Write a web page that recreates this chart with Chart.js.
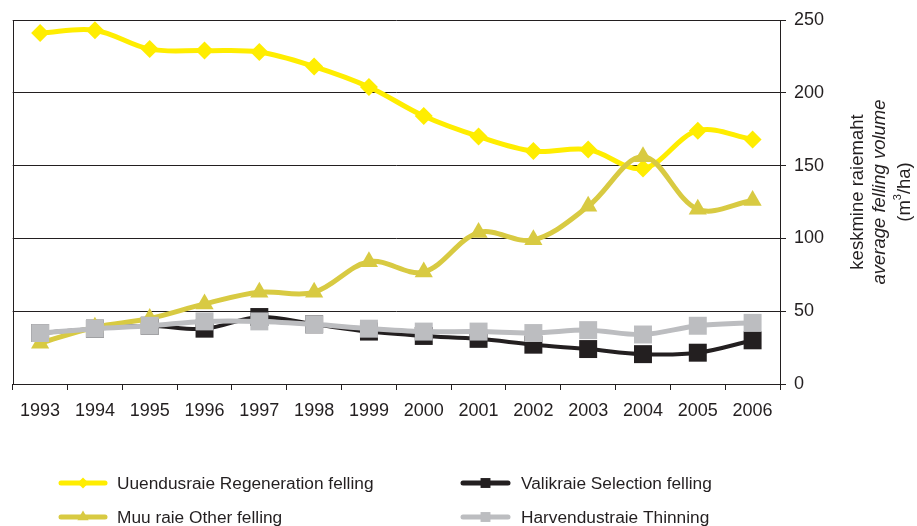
<!DOCTYPE html>
<html>
<head>
<meta charset="utf-8">
<script src="https://cdn.jsdelivr.net/npm/chart.js@4"></script>
<style>
  html, body { margin: 0; padding: 0; background: #ffffff; }
  #wrap { width: 917px; height: 526px; position: relative; }
  canvas { display: block; }
</style>
</head>
<body>
<div id="wrap"><canvas id="chart" width="917" height="526"></canvas></div>
<script>
// Average felling volume by felling type, 1993–2006 (m³/ha)
const years = ['1993', '1994', '1995', '1996', '1997', '1998', '1999', '2000', '2001', '2002', '2003', '2004', '2005', '2006'];
const regeneration = [241, 243, 230, 229, 228, 218, 204, 184, 170, 160, 161, 148, 174, 168];
const otherFelling = [28, 39, 45, 55, 63, 63, 84, 77, 104, 99, 122, 156, 120, 126];
const selection = [35, 38, 40, 38, 46, 41, 36, 33, 31, 27, 24, 20.5, 21.5, 30];
const thinning = [35, 38, 40, 43, 43, 41, 38, 36, 36, 35, 37, 34, 40, 42];
const yTicks = [0, 50, 100, 150, 200, 250];
const seriesNames = [
  'Uuendusraie Regeneration felling',
  'Valikraie Selection felling',
  'Muu raie Other felling',
  'Harvendustraie Thinning'
];

const INK = '#231f20';
const FONT = '"Liberation Sans", Arial, Helvetica, sans-serif';

const colors = {
  regen: '#ffed00',
  other: '#d8ca42',
  selection: '#231f20',
  thinning: '#bcbdc0'
};

function series(label, data, color, style, radius, width, order) {
  return {
    label: label,
    data: data,
    borderColor: color,
    backgroundColor: color,
    borderWidth: width,
    pointStyle: style,
    pointRadius: radius,
    pointHoverRadius: radius,
    pointBorderWidth: 0,
    pointBackgroundColor: color,
    tension: 0.35,
    order: order,
    clip: false
  };
}

const datasets = [
  series(seriesNames[0], regeneration, colors.regen, 'rectRot', 9, 5, 3),
  series(seriesNames[1], selection, colors.selection, 'rect', 12.7, 4, 2),
  series(seriesNames[2], otherFelling, colors.other, 'triangle', 10.5, 5, 1),
  series(seriesNames[3], thinning, colors.thinning, 'rect', 12.7, 5, 0)
];

// left frame line of the plot area
const frameLine = {
  id: 'frameLine',
  afterDraw(chart) {
    const { ctx, chartArea } = chart;
    ctx.save();
    ctx.strokeStyle = INK;
    ctx.lineWidth = 1;
    const x = Math.round(chartArea.left) + 0.5;
    ctx.beginPath();
    ctx.moveTo(x, chartArea.top);
    ctx.lineTo(x, chartArea.bottom);
    ctx.stroke();
    ctx.restore();
  }
};

// rotated three-line title beside the right-hand value axis
const axisTitle = {
  id: 'axisTitle',
  afterDraw(chart) {
    const { ctx } = chart;
    const cy = 192;
    ctx.save();
    ctx.fillStyle = INK;
    ctx.textBaseline = 'middle';
    ctx.textAlign = 'center';

    const line = (x, parts) => {
      ctx.save();
      ctx.translate(x, cy);
      ctx.rotate(-Math.PI / 2);
      let total = 0;
      parts.forEach(p => { ctx.font = p.font; total += ctx.measureText(p.text).width; });
      let cx = -total / 2;
      ctx.textAlign = 'left';
      parts.forEach(p => {
        ctx.font = p.font;
        ctx.fillText(p.text, cx, p.dy || 0);
        cx += ctx.measureText(p.text).width;
      });
      ctx.restore();
    };

    line(858, [{ text: 'keskmine raiemaht', font: '18.5px ' + FONT }]);
    line(880, [
      { text: 'average ', font: 'italic 18.5px ' + FONT },
      { text: 'felling', font: 'italic 18.5px ' + FONT },
      { text: ' volume', font: 'italic 18.5px ' + FONT }
    ]);
    line(905, [
      { text: '(m', font: '18.5px ' + FONT },
      { text: '3', font: '11px ' + FONT, dy: -7 },
      { text: '/ha)', font: '18.5px ' + FONT }
    ]);
    ctx.restore();
  }
};

// two-column legend under the category axis
const bottomLegend = {
  id: 'bottomLegend',
  afterDraw(chart) {
    const { ctx } = chart;
    const ds = chart.data.datasets;
    const slots = [
      { i: 0, x0: 61, x1: 105, tx: 117, y: 483, marker: 'rectRot', r: 5.5 },
      { i: 2, x0: 61, x1: 105, tx: 117, y: 517, marker: 'triangle', r: 6.5 },
      { i: 1, x0: 463, x1: 508, tx: 521, y: 483, marker: 'rect', r: 7 },
      { i: 3, x0: 463, x1: 508, tx: 521, y: 517, marker: 'rect', r: 7 }
    ];
    ctx.save();
    slots.forEach(s => {
      const d = ds[s.i];
      ctx.strokeStyle = d.borderColor;
      ctx.lineWidth = 5;
      ctx.lineCap = 'round';
      ctx.beginPath();
      ctx.moveTo(s.x0, s.y);
      ctx.lineTo(s.x1, s.y);
      ctx.stroke();
      ctx.fillStyle = d.borderColor;
      Chart.helpers.drawPoint(ctx, {
        pointStyle: s.marker, radius: s.r, borderWidth: 0, rotation: 0
      }, (s.x0 + s.x1) / 2, s.y);
      ctx.fillStyle = INK;
      ctx.font = '17.3px ' + FONT;
      ctx.textAlign = 'left';
      ctx.textBaseline = 'middle';
      ctx.fillText(d.label, s.tx, s.y + 1);
    });
    ctx.restore();
  }
};

new Chart(document.getElementById('chart'), {
  type: 'line',
  data: { labels: years, datasets: datasets },
  options: {
    responsive: false,
    animation: false,
    devicePixelRatio: 1,
    layout: { padding: { left: 12, top: 20, right: 0, bottom: 0 } },
    plugins: {
      legend: { display: false },
      tooltip: { enabled: false }
    },
    scales: {
      x: {
        type: 'category',
        offset: true,
        afterFit(scale) { scale.height = 142; },
        grid: {
          offset: true,
          drawOnChartArea: false,
          drawTicks: true,
          tickLength: 6,
          color: INK,
          lineWidth: 1
        },
        border: { display: true, color: INK, width: 1 },
        ticks: {
          color: INK,
          font: { family: FONT, size: 18 },
          padding: 10,
          maxRotation: 0,
          autoSkip: false
        }
      },
      y: {
        type: 'linear',
        position: 'right',
        min: yTicks[0],
        max: yTicks[yTicks.length - 1],
        afterFit(scale) { scale.width = 137; },
        afterBuildTicks(scale) { scale.ticks = yTicks.map(v => ({ value: v })); },
        grid: {
          color: INK,
          lineWidth: 1,
          drawTicks: true,
          tickLength: 6
        },
        border: { display: true, color: INK, width: 1 },
        ticks: {
          color: INK,
          font: { family: FONT, size: 18 },
          padding: 8
        }
      }
    }
  },
  plugins: [frameLine, axisTitle, bottomLegend]
});
</script>
</body>
</html>
